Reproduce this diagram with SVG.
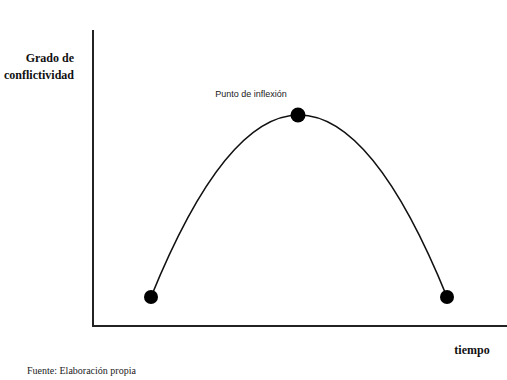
<svg xmlns="http://www.w3.org/2000/svg" width="507" height="380" viewBox="0 0 507 380">
<style>
.ax{stroke:#222;stroke-width:2;fill:none}
.curve{stroke:#111;stroke-width:1.6;fill:none}
.pt{fill:#000}
.lbl{font-family:"Liberation Serif",serif;font-weight:bold;font-size:12px;fill:#111}
.small{font-family:"Liberation Sans",sans-serif;font-size:9px;fill:#222}
.src{font-family:"Liberation Serif",serif;font-size:10px;fill:#222}
</style>
<rect width="507" height="380" fill="#fff"/>
<g id="axes">
<line class="ax" x1="93" y1="30" x2="93" y2="326"/>
<line class="ax" x1="92" y1="326" x2="507" y2="326"/>
</g>
<g id="connectors">
<path class="curve" d="M151,297 Q299,-67 447,297"/>
</g>
<g id="start"><circle class="pt" cx="151" cy="297" r="7"/></g>
<g id="peak"><circle class="pt" cx="298" cy="115" r="7.5"/>
<text class="small" x="251" y="97" text-anchor="middle">Punto de inflexión</text></g>
<g id="end"><circle class="pt" cx="447" cy="297" r="7"/></g>
<g id="ylabel">
<text class="lbl" x="74" y="62" text-anchor="end">Grado de</text>
<text class="lbl" x="74" y="79" text-anchor="end">conflictividad</text>
</g>
<g id="xlabel"><text class="lbl" x="472" y="354" text-anchor="middle">tiempo</text></g>
<g id="source"><text class="src" x="27" y="374">Fuente: Elaboración propia</text></g>
</svg>
